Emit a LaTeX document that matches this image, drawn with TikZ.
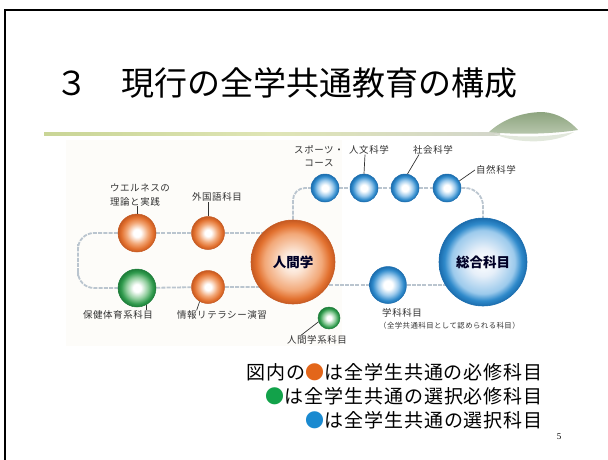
\documentclass[tikz,border=0pt]{standalone}
\usepackage{fontspec}
\setmainfont{Liberation Serif}
\newfontfamily\jp{Noto Sans CJK JP}
\newfontfamily\jplbl[LetterSpace=6]{Noto Sans CJK JP}
\newfontfamily\jpleg[LetterSpace=5]{Noto Sans CJK JP}
\usetikzlibrary{backgrounds}

% ball colours
\definecolor{oRim}{HTML}{E2702E}
\definecolor{oMid}{HTML}{F2A878}
\definecolor{oPale}{HTML}{FBE3D2}
\definecolor{oDark}{HTML}{C65A22}
\definecolor{gRim}{HTML}{2F9A4C}
\definecolor{gMid}{HTML}{92CE9E}
\definecolor{gDark}{HTML}{1E7E3A}
\definecolor{bRim}{HTML}{2F8ACB}
\definecolor{bMid}{HTML}{9CCAEC}
\definecolor{bPale}{HTML}{E6EFF9}
\definecolor{bDark}{HTML}{1B6DAE}
% lines and text
\definecolor{wire}{HTML}{BAC5CF}
\definecolor{lbl}{HTML}{333333}
\definecolor{cream}{HTML}{FDFCF9}
\definecolor{legO}{HTML}{E3661A}
\definecolor{legG}{HTML}{12A24A}
\definecolor{legB}{HTML}{1A8AD0}
% title rule and leaf
\definecolor{ruleA}{HTML}{C9D596}
\definecolor{ruleB}{HTML}{DFE5B6}
\definecolor{ruleC}{HTML}{D3D6CB}
\definecolor{leafTop}{HTML}{8DA47F}
\definecolor{leafBot}{HTML}{B9C8AE}
\definecolor{leafGlow}{HTML}{E2E8DC}

% radial shadings: the path edge sits at 25bp
\pgfdeclareradialshading{orbO}{\pgfpoint{0bp}{0bp}}{color(0bp)=(white); color(5bp)=(white); color(14bp)=(oMid); color(21bp)=(oRim); color(25bp)=(oDark); color(50bp)=(oDark)}
\pgfdeclareradialshading{orbOBig}{\pgfpoint{0bp}{0bp}}{color(0bp)=(white); color(7bp)=(oPale); color(17bp)=(oMid); color(22bp)=(oRim); color(25bp)=(oDark); color(50bp)=(oDark)}
\pgfdeclareradialshading{orbG}{\pgfpoint{0bp}{0bp}}{color(0bp)=(white); color(5bp)=(white); color(14bp)=(gMid); color(21bp)=(gRim); color(25bp)=(gDark); color(50bp)=(gDark)}
\pgfdeclareradialshading{orbB}{\pgfpoint{0bp}{0bp}}{color(0bp)=(white); color(6bp)=(white); color(14bp)=(bMid); color(21bp)=(bRim); color(25bp)=(bDark); color(50bp)=(bDark)}
\pgfdeclareradialshading{orbBBig}{\pgfpoint{0bp}{0bp}}{color(0bp)=(white); color(8bp)=(bPale); color(18bp)=(bMid); color(22bp)=(bRim); color(25bp)=(bDark); color(50bp)=(bDark)}

\tikzset{
  orb/.style={circle, inner sep=0pt, minimum size=#1},
  orange/.style={orb=#1, shade, shading=orbO, draw=oDark, line width=0.5pt},
  bigorange/.style={orb=#1, shade, shading=orbOBig, draw=oDark, line width=0.6pt},
  green/.style={orb=#1, shade, shading=orbG, draw=gDark, line width=0.5pt},
  blue/.style={orb=#1, shade, shading=orbB, draw=bDark, line width=0.5pt},
  bigblue/.style={orb=#1, shade, shading=orbBBig, draw=bDark, line width=0.6pt},
  wirestyle/.style={draw=wire, line width=1.8pt, dash pattern=on 4pt off 1.2pt},
  lab/.style={inner sep=0pt, text=lbl, font=\jplbl\fontsize{9.5}{13.5}\selectfont},
  smalllab/.style={inner sep=0pt, text=lbl, font=\jplbl\fontsize{7.4}{9}\selectfont},
  leader/.style={draw=lbl, line width=0.7pt},
  bigtext/.style={font=\jp\bfseries\fontsize{13.5}{15}\selectfont, text=black!85!blue},
  legend/.style={inner sep=0pt, anchor=east, font=\jpleg\fontsize{19}{22}\selectfont}
}

\begin{document}
\begin{tikzpicture}[x=1pt, y=-1pt]
\useasboundingbox (0,0) rectangle (608,459);

% slide frame
\draw[line width=2pt] (5,460) -- (5,10) -- (609,10);

% title
\node[anchor=west, inner sep=0pt, font=\jp\fontsize{33}{36}\selectfont] (title) at (55,83) {３　現行の全学共通教育の構成};

% title rule with leaf
\shade[left color=ruleA, right color=ruleC, middle color=ruleB] (44,132) rectangle (500,135.5);
\fill[leafGlow] (494,134) .. controls (520,138) and (550,137) .. (574,132) .. controls (556,143) and (520,145) .. (494,134) -- cycle;
\shade[top color=leafTop, bottom color=leafBot] (489,132) .. controls (503,119) and (523,112) .. (543,112) .. controls (558,113) and (570,121) .. (578,130) .. controls (552,134) and (516,135) .. (489,132) -- cycle;

% balls
\node[orange=38pt] (w) at (137,233) {};
\node[orange=33pt] (f) at (208,233) {};
\node[green=38pt] (g) at (137,288) {};
\node[orange=33pt] (i) at (208,287) {};
\node[bigorange=84pt, bigtext] (jin) at (293,262) {人間学};
\node[green=22pt] (hk) at (329,318) {};
\node[blue=28pt] (s1) at (325,188) {};
\node[blue=28pt] (s2) at (364,188) {};
\node[blue=28pt] (s3) at (405,188) {};
\node[blue=28pt] (s4) at (447,188) {};
\node[bigblue=88pt, bigtext] (sogo) at (483,262) {総合科目};
\node[blue=37pt] (gk) at (388,285) {};
\coordinate (loopL) at (78,260);

% wires behind the balls
\begin{scope}[on background layer]
  \fill[cream] (66,140) rectangle (342,346);
  \draw[wirestyle, rounded corners=16pt] (w) -| (loopL) |- (g);
  \draw[wirestyle] (w) -- (f) -- (f -| jin);
  \draw[wirestyle] (g) -- (i) -- (i -| jin);
  \draw[wirestyle, rounded corners=12pt] (jin) |- (s1);
  \draw[wirestyle] (s1) -- (s2) -- (s3) -- (s4);
  \draw[wirestyle, rounded corners=18pt] (s4) -| (sogo);
  \draw[wirestyle] (gk -| jin) -- (gk) -- (gk -| sogo);
\end{scope}

% labels
\node[lab, align=left] (wl) at (140,195) {ウエルネスの\\理論と実践};
\node[lab] (fl) at (217,197) {外国語科目};
\node[lab] (hl) at (118,315) {保健体育系科目};
\node[lab] (il) at (222,315) {情報リテラシー演習};
\node[lab] (hkl) at (317,340) {人間学系科目};
\node[lab, align=center] (sl) at (319,156) {スポーツ・\\コース};
\node[lab] (jl) at (369,150) {人文科学};
\node[lab] (shl) at (433,150) {社会科学};
\node[lab] (nl) at (496,170) {自然科学};
\node[lab, anchor=west] (gkl) at (382,313) {学科科目};
\node[smalllab, anchor=west] (gkn) at (379,326) {（全学共通科目として認められる科目）};

% leader lines
\draw[leader] (w.north) -- (w.north |- wl.south);
\draw[leader] (f.north) -- (f.north |- fl.south);
\draw[leader] (g.-60) -- (g.-60 |- hl.north);
\draw[leader] (i.-120) -- ([xshift=-3pt]i.-120 |- il.north);
\draw[leader] (s2.north) -- ([xshift=1pt]s2.north |- jl.south);
\draw[leader] (s3.80) -- ([xshift=6pt]shl.south west);
\draw[leader] (s4.30) -- ([xshift=-1pt]nl.west);
\draw[leader] (hk.200) -- ([xshift=14pt]hkl.north west);

% legend
\node[legend] (L1) at (543,372) {図内の{\color{legO}●}は全学生共通の必修科目};
\node[legend] (L2) at (543,396) {{\color{legG}●}は全学生共通の選択必修科目};
\node[legend] (L3) at (543,420) {{\color{legB}●}は全学生共通の選択科目};

% page number
\node[font=\fontsize{9}{10}\selectfont, inner sep=0pt] (pg) at (559,437) {5};
\end{tikzpicture}
\end{document}
